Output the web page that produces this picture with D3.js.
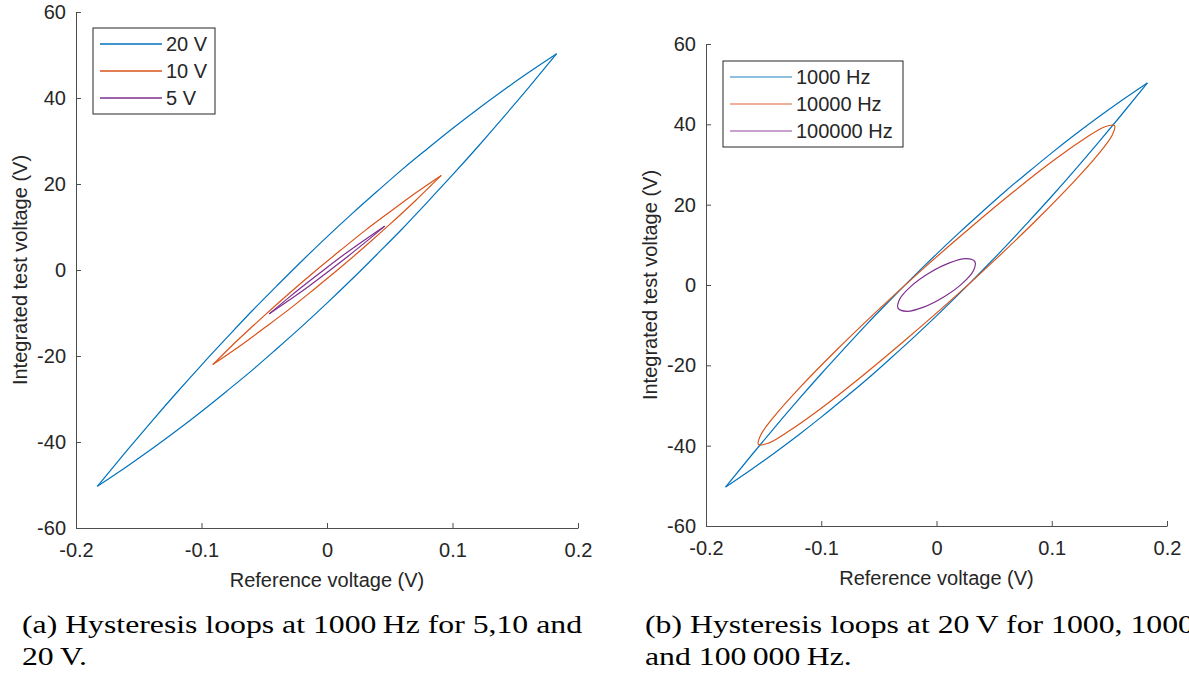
<!DOCTYPE html>
<html>
<head>
<meta charset="utf-8">
<script src="https://cdn.jsdelivr.net/npm/d3@7"></script>
<style>
  body { margin: 0; background: #fff; }
  svg { display: block; }
  .tick text, .lab, .leg { font-family: "Liberation Sans", Arial, sans-serif; fill: #262626; }
  .cap { font-family: "Liberation Serif", "Times New Roman", serif; fill: #000; }
</style>
</head>
<body>
<svg id="chart" width="1189" height="677"></svg>
<script>
// axis ticks
const xTicks = [-0.2, -0.1, 0, 0.1, 0.2];
const yTicks = [-60, -40, -20, 0, 20, 40, 60];

// (a) 1000 Hz, amplitude sweep. [reference V, integrated V]
const loop20V_up = [[-0.183,-50.3],[-0.16,-42.2],[-0.14,-35.3],[-0.12,-28.6],[-0.10,-22.1],[-0.08,-15.8],[-0.06,-9.6],[-0.04,-3.7],[-0.02,2.1],[0,7.7],[0.02,13.1],[0.04,18.3],[0.06,23.4],[0.08,28.2],[0.10,32.9],[0.12,37.4],[0.14,41.7],[0.16,45.8],[0.183,50.3]];
const loop20V_down = [[-0.183,-50.3],[-0.16,-45.8],[-0.14,-41.7],[-0.12,-37.4],[-0.10,-32.9],[-0.08,-28.2],[-0.06,-23.4],[-0.04,-18.3],[-0.02,-13.1],[0,-7.7],[0.02,-2.1],[0.04,3.7],[0.06,9.6],[0.08,15.8],[0.10,22.1],[0.12,28.6],[0.14,35.3],[0.16,42.2],[0.183,50.3]];
const loop10V_up = [[-0.091,-22.0],[-0.07,-16.0],[-0.05,-10.6],[-0.03,-5.4],[-0.01,-0.4],[0.01,4.4],[0.03,9.1],[0.05,13.5],[0.07,17.8],[0.091,22.0]];
const loop10V_down = [[-0.091,-22.0],[-0.07,-17.8],[-0.05,-13.5],[-0.03,-9.1],[-0.01,-4.4],[0.01,0.4],[0.03,5.4],[0.05,10.6],[0.07,16.0],[0.091,22.0]];
const loop5V_up = [[-0.046,-10.2],[-0.03,-6.3],[-0.015,-2.8],[0,0.6],[0.015,3.9],[0.03,7.0],[0.046,10.2]];
const loop5V_down = [[-0.046,-10.2],[-0.03,-7.0],[-0.015,-3.9],[0,-0.6],[0.015,2.8],[0.03,6.3],[0.046,10.2]];

// (b) 20 V, frequency sweep
const loop1kHz_up = loop20V_up;
const loop1kHz_down = loop20V_down;
const loop10kHz = [[0.1545,39.7],[0.1524,37.3],[0.1399,32.4],[0.1178,25.3],[0.0878,16.5],[0.0517,6.5],[0.0122,-3.9],[-0.0283,-14.0],[-0.0668,-23.2],[-0.1006,-30.8],[-0.1277,-36.3],[-0.1461,-39.4],[-0.1545,-39.7],[-0.1524,-37.3],[-0.1399,-32.4],[-0.1178,-25.3],[-0.0878,-16.5],[-0.0517,-6.5],[-0.0122,3.9],[0.0283,14.0],[0.0668,23.2],[0.1006,30.8],[0.1277,36.3],[0.1461,39.4]];
const loop100kHz = [[0.0333,5.83],[0.0320,3.55],[0.0222,0.33],[0.0063,-2.99],[-0.0112,-5.51],[-0.0256,-6.55],[-0.0333,-5.83],[-0.0320,-3.55],[-0.0222,-0.33],[-0.0063,2.99],[0.0112,5.51],[0.0256,6.55]];

const legendA = ["20 V", "10 V", "5 V"];
const legendB = ["1000 Hz", "10000 Hz", "100000 Hz"];
const colors = ["#0072BD", "#D95319", "#7E2F8E"];

const svg = d3.select("#chart");

function drawPanel(p) {
  const x = d3.scaleLinear().domain([-0.2, 0.2]).range([p.left, p.right]);
  const y = d3.scaleLinear().domain([-60, 60]).range([p.bottom, p.top]);
  const g = svg.append("g");

  const xa = g.append("g")
    .attr("transform", `translate(0,${p.bottom})`)
    .call(d3.axisBottom(x).tickValues(xTicks).tickFormat(d => String(d))
      .tickSizeInner(-5).tickSizeOuter(0).tickPadding(15));
  const ya = g.append("g")
    .attr("transform", `translate(${p.left},0)`)
    .call(d3.axisLeft(y).tickValues(yTicks).tickFormat(d => String(d))
      .tickSizeInner(-5).tickSizeOuter(0).tickPadding(10));
  [xa, ya].forEach(a => {
    a.selectAll("path, line").attr("stroke", "#4d4d4d");
    a.selectAll("text").attr("font-size", 20);
  });

  g.append("text").attr("class", "lab")
    .attr("x", (p.left + p.right) / 2).attr("y", p.bottom + 59)
    .attr("text-anchor", "middle").attr("font-size", 20)
    .text("Reference voltage (V)");
  g.append("text").attr("class", "lab")
    .attr("transform", `translate(${p.ylabX},${y(0)}) rotate(-90)`)
    .attr("text-anchor", "middle").attr("font-size", 20)
    .text("Integrated test voltage (V)");

  const open = d3.line().x(d => x(d[0])).y(d => y(d[1])).curve(d3.curveMonotoneX);
  const closed = d3.line().x(d => x(d[0])).y(d => y(d[1])).curve(d3.curveCatmullRomClosed);
  p.series.forEach((s, i) => {
    s.forEach(part => {
      g.append("path")
        .attr("d", part.closed ? closed(part.pts) : open(part.pts))
        .attr("fill", "none").attr("stroke", colors[i]).attr("stroke-width", 1.2);
    });
  });

  // legend
  const L = p.legend;
  g.append("rect").attr("x", L.x).attr("y", L.y).attr("width", L.w).attr("height", L.h)
    .attr("fill", "#fff").attr("stroke", "#262626").attr("stroke-width", 1);
  p.labels.forEach((t, i) => {
    const yy = L.y + 16 + i * 27;
    g.append("line").attr("x1", L.x + 7).attr("x2", L.x + 69).attr("y1", yy).attr("y2", yy)
      .attr("stroke", colors[i]).attr("stroke-width", 1.5).attr("stroke-opacity", L.op);
    g.append("text").attr("class", "leg").attr("x", L.x + 73).attr("y", yy + 7)
      .attr("font-size", 20).text(t);
  });
}

drawPanel({
  left: 76, right: 578, top: 12, bottom: 528, ylabX: 27,
  series: [
    [{pts: loop20V_up}, {pts: loop20V_down}],
    [{pts: loop10V_up}, {pts: loop10V_down}],
    [{pts: loop5V_up}, {pts: loop5V_down}]
  ],
  labels: legendA,
  legend: {x: 93, y: 28, w: 122, h: 86, op: 1}
});

drawPanel({
  left: 706, right: 1167, top: 44, bottom: 526, ylabX: 657,
  series: [
    [{pts: loop1kHz_up}, {pts: loop1kHz_down}],
    [{pts: loop10kHz, closed: true}],
    [{pts: loop100kHz, closed: true}]
  ],
  labels: legendB,
  legend: {x: 723, y: 61, w: 180, h: 86, op: 0.6}
});

// captions (LaTeX subcaptions)
const capA1 = svg.append("text").attr("class", "cap").attr("x", 22).attr("y", 633)
  .attr("font-size", 26).text("(a) Hysteresis loops at 1000\u2009Hz for 5,10 and");
const natA = capA1.node().getComputedTextLength();
const ratio = 560 / natA;
capA1.attr("textLength", 560).attr("lengthAdjust", "spacingAndGlyphs");
function fit() {
  d3.select(this).attr("textLength", this.getComputedTextLength() * ratio).attr("lengthAdjust", "spacingAndGlyphs");
}
svg.append("text").attr("class", "cap").attr("x", 22).attr("y", 665)
  .attr("font-size", 26).text("20\u2009V.").each(fit);
svg.append("text").attr("class", "cap").attr("x", 645).attr("y", 633)
  .attr("font-size", 26).text("(b) Hysteresis loops at 20\u2009V for 1000, 10000").each(fit);
svg.append("text").attr("class", "cap").attr("x", 645).attr("y", 665)
  .attr("font-size", 26).text("and 100\u2009000\u2009Hz.").each(fit);
</script>
</body>
</html>
